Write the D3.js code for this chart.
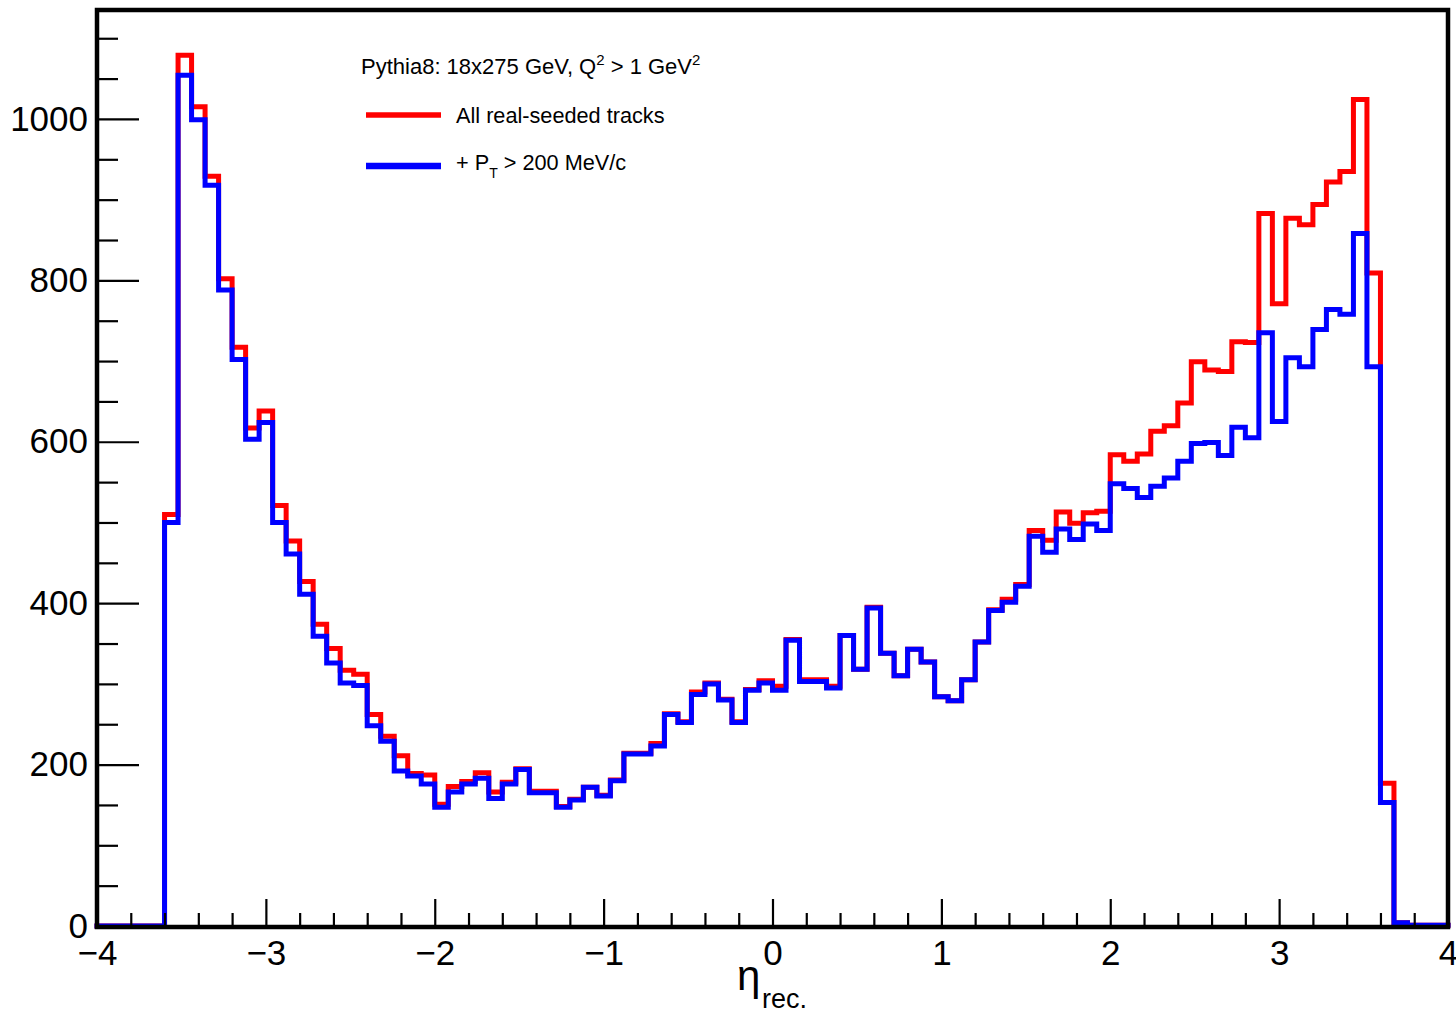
<!DOCTYPE html>
<html><head><meta charset="utf-8">
<script src="https://cdn.jsdelivr.net/npm/d3@7"></script>
<style>
body{margin:0;background:#fff}
svg{display:block;background:#fff}
text{font-family:"Liberation Sans",Arial,Helvetica,sans-serif;fill:#000}
</style>
</head><body>
<svg id="chart" width="1456" height="1014"></svg>
<script>
// ---- data ----
const etaDomain = [-4, 4];
const nBins = 100;
const countDomain = [0, 1135];

const allTracks = [
  0, 0, 0, 0, 0, 510, 1079, 1015, 929, 802,
  717, 617, 638, 521, 477, 427, 374, 344, 317, 312,
  262, 235, 211, 189, 187, 151, 173, 179, 190, 166,
  178, 195, 167, 167, 148, 157, 172, 162, 181, 214,
  214, 226, 263, 253, 290, 301, 281, 253, 293, 304,
  297, 355, 305, 305, 297, 360, 318, 395, 338, 310,
  343, 327, 284, 279, 305, 352, 392, 405, 423, 490,
  478, 513, 499, 512, 514, 584, 576, 585, 613, 620,
  648, 699, 689, 687, 724, 723, 883, 771, 877, 869,
  894, 922, 935, 1024, 809, 177, 4, 1, 1, 1
];
const ptCut = [
  0, 0, 0, 0, 0, 500, 1054, 999, 918, 788,
  702, 603, 624, 500, 461, 411, 359, 326, 301, 298,
  248, 229, 192, 186, 176, 147, 166, 176, 183, 158,
  176, 194, 165, 165, 147, 156, 172, 161, 180, 213,
  213, 223, 262, 252, 287, 300, 280, 252, 292, 301,
  292, 354, 303, 303, 295, 360, 318, 394, 338, 310,
  343, 327, 284, 279, 305, 352, 391, 401, 421, 483,
  463, 492, 479, 498, 490, 548, 542, 531, 545, 555,
  576, 598, 599, 583, 618, 605, 735, 625, 704, 693,
  739, 764, 758, 858, 693, 153, 4, 1, 1, 1
];

const xMajorTicks = [-4, -3, -2, -1, 0, 1, 2, 3, 4];
const xMinorTicks = [-3.8, -3.6, -3.4, -3.2, -2.8, -2.6, -2.4, -2.2, -1.8, -1.6, -1.4, -1.2,
  -0.8, -0.6, -0.4, -0.2, 0.2, 0.4, 0.6, 0.8, 1.2, 1.4, 1.6, 1.8, 2.2, 2.4, 2.6, 2.8,
  3.2, 3.4, 3.6, 3.8];
const yMajorTicks = [0, 200, 400, 600, 800, 1000];
const yMinorTicks = [50, 100, 150, 250, 300, 350, 450, 500, 550, 650, 700, 750, 850, 900, 950, 1050, 1100];

const seriesNames = ["All real-seeded tracks", "+ P", "T", " > 200 MeV/c"];
const seriesColors = ["#ff0000", "#0000ff"];

// ---- layout ----
const svg = d3.select("#chart");
const L = 97, R = 1448, T = 10, B = 926;

const x = d3.scaleLinear().domain(etaDomain).range([L, R]);
const y = d3.scaleLinear().domain(countDomain).range([B, T]);

const binW = (etaDomain[1] - etaDomain[0]) / nBins;
function stepPoints(vals) {
  const pts = vals.map((v, i) => [etaDomain[0] + i * binW, v]);
  pts.push([etaDomain[1], vals[vals.length - 1]]);
  return pts;
}
const line = d3.line().x(d => x(d[0])).y(d => y(d[1])).curve(d3.curveStepAfter);

svg.append("path").datum(stepPoints(allTracks))
  .attr("d", line).attr("fill", "none")
  .attr("stroke", seriesColors[0]).attr("stroke-width", 5)
  .attr("stroke-linejoin", "miter").attr("stroke-linecap", "square");
svg.append("path").datum(stepPoints(ptCut))
  .attr("d", line).attr("fill", "none")
  .attr("stroke", seriesColors[1]).attr("stroke-width", 5)
  .attr("stroke-linejoin", "miter").attr("stroke-linecap", "square");

// ---- axes ----
const fs = 35;
const yAxis = svg.append("g").attr("transform", `translate(${L},0)`)
  .call(d3.axisLeft(y).tickValues(yMajorTicks).tickSize(-42).tickSizeOuter(0).tickPadding(9)
    .tickFormat(d3.format("d")));
yAxis.select(".domain").remove();
yAxis.selectAll("line").attr("stroke", "#000").attr("stroke-width", 2.2);
yAxis.selectAll("text").attr("font-size", fs).attr("font-family", "Liberation Sans, Arial, sans-serif");

const yMinor = svg.append("g").attr("transform", `translate(${L},0)`)
  .call(d3.axisLeft(y).tickValues(yMinorTicks).tickSize(-21).tickSizeOuter(0).tickFormat(""));
yMinor.select(".domain").remove();
yMinor.selectAll("line").attr("stroke", "#000").attr("stroke-width", 2.2);

const xAxis = svg.append("g").attr("transform", `translate(0,${B})`)
  .call(d3.axisBottom(x).tickValues(xMajorTicks).tickSize(-27).tickSizeOuter(0).tickPadding(14)
    .tickFormat(d3.format("d")));
xAxis.select(".domain").remove();
xAxis.selectAll("line").attr("stroke", "#000").attr("stroke-width", 2.2);
xAxis.selectAll("text").attr("font-size", fs).attr("font-family", "Liberation Sans, Arial, sans-serif");

const xMinor = svg.append("g").attr("transform", `translate(0,${B})`)
  .call(d3.axisBottom(x).tickValues(xMinorTicks).tickSize(-13).tickSizeOuter(0).tickFormat(""));
xMinor.select(".domain").remove();
xMinor.selectAll("line").attr("stroke", "#000").attr("stroke-width", 2.2);

// frame
svg.append("rect").attr("x", L).attr("y", T).attr("width", R - L).attr("height", B - T + 1)
  .attr("fill", "none").attr("stroke", "#000").attr("stroke-width", 4.5);

// axis title
svg.append("text").attr("x", 737).attr("y", 990).attr("font-size", 42).text("η");
svg.append("text").attr("x", 762).attr("y", 1008).attr("font-size", 27).text("rec.");

// ---- legend ----
const title = svg.append("text").attr("x", 361).attr("y", 74).attr("font-size", 22).attr("fill", "#222");
title.append("tspan").text("Pythia8: 18x275 GeV, Q");
title.append("tspan").attr("font-size", 15).attr("dy", -9).text("2");
title.append("tspan").attr("dy", 9).text(" > 1 GeV");
title.append("tspan").attr("font-size", 15).attr("dy", -9).text("2");

svg.append("line").attr("x1", 366).attr("x2", 441).attr("y1", 115).attr("y2", 115)
  .attr("stroke", seriesColors[0]).attr("stroke-width", 5.5);
svg.append("text").attr("x", 456).attr("y", 122.5).attr("font-size", 21.7).attr("fill", "#222")
  .text(seriesNames[0]);

svg.append("line").attr("x1", 366).attr("x2", 441).attr("y1", 166).attr("y2", 166)
  .attr("stroke", seriesColors[1]).attr("stroke-width", 6.5);
const l2 = svg.append("text").attr("x", 456).attr("y", 169.5).attr("font-size", 21.7).attr("fill", "#222");
l2.append("tspan").text(seriesNames[1]);
l2.append("tspan").attr("font-size", 14).attr("dy", 8).text(seriesNames[2]);
l2.append("tspan").attr("dy", -8).text(seriesNames[3]);
</script>
</body></html>
